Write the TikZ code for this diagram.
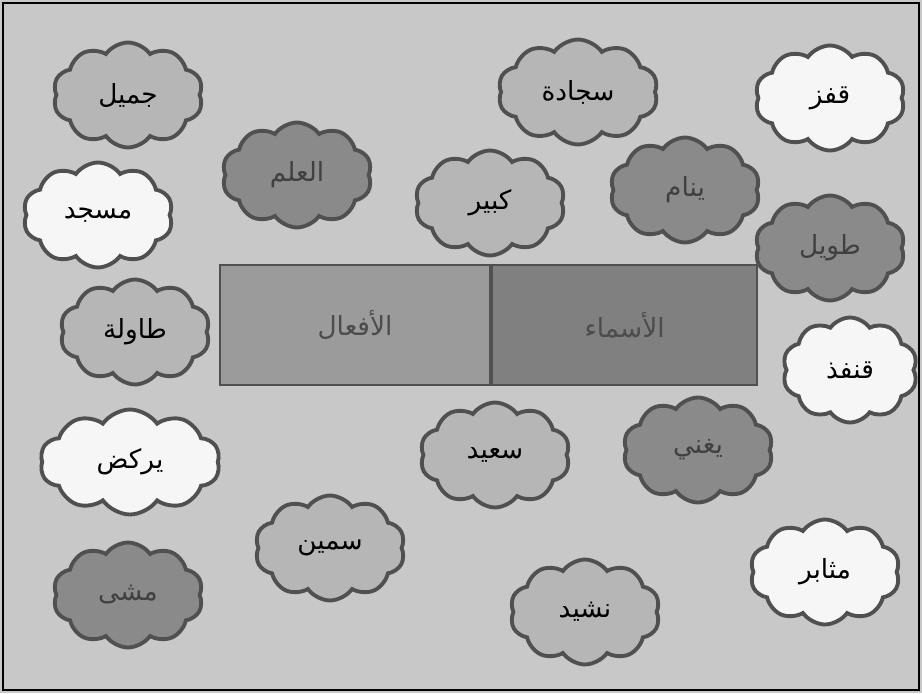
\documentclass[tikz,border=0pt]{standalone}
\usepackage{fontspec}
\usepackage{tikz}
\usetikzlibrary{shapes.symbols}
\TeXXeTstate=1
\newfontfamily\arabicfont[Script=Arabic]{DejaVu Sans}
\newcommand{\arword}[1]{\beginR #1\endR}
\definecolor{pagegray}{RGB}{200,200,200}
\definecolor{lightfill}{RGB}{182,182,182}
\definecolor{darkfill}{RGB}{138,138,138}
\definecolor{whitefill}{RGB}{246,246,246}
\definecolor{edgegray}{RGB}{80,80,80}
\definecolor{verbfill}{RGB}{155,155,155}
\definecolor{nounfill}{RGB}{128,128,128}
\tikzset{
  cloudstyle/.style={cloud, cloud puffs=10, cloud puff arc=110, cloud ignores aspect,
    draw=edgegray, line width=2.2pt, minimum width=3cm, minimum height=2.1cm,
    font=\arabicfont\fontsize{15}{17}\selectfont, text=black},
  lightcloud/.style={cloudstyle, fill=lightfill},
  darkcloud/.style={cloudstyle, fill=darkfill, text=black!75},
  whitecloud/.style={cloudstyle, fill=whitefill},
  boxstyle/.style={rectangle, draw=edgegray, line width=1.2pt, minimum width=5.4cm,
    minimum height=2.4cm, font=\arabicfont\fontsize{15}{17}\selectfont, text=black!70}
}
\begin{document}
\begin{tikzpicture}[x=0.02cm, y=-0.02cm]
  \useasboundingbox (0,0) rectangle (922,693);
  \fill[pagegray] (0,0) rectangle (922,693);
  \draw[black, line width=1.5pt] (3,3) rectangle (919,690);
  % word clouds
  \node[lightcloud] (jamil) at (128,95) {\arword{جميل}};
  \node[lightcloud, minimum width=3.2cm] (sajjada) at (578,92) {\arword{سجادة}};
  \node[whitecloud] (qafaza) at (830,98) {\arword{قفز}};
  \node[darkcloud] (alilm) at (297,175) {\arword{العلم}};
  \node[lightcloud] (kabir) at (490,203) {\arword{كبير}};
  \node[darkcloud] (yanam) at (685,190) {\arword{ينام}};
  \node[whitecloud] (masjid) at (98,215) {\arword{مسجد}};
  \node[darkcloud] (tawil) at (830,248) {\arword{طويل}};
  \node[lightcloud] (tawila) at (135,332) {\arword{طاولة}};
  \node[whitecloud, minimum width=2.7cm] (qunfudh) at (850,370) {\arword{قنفذ}};
  \node[whitecloud, minimum width=3.6cm] (yarkud) at (130,462) {\arword{يركض}};
  \node[lightcloud] (said) at (495,455) {\arword{سعيد}};
  \node[darkcloud] (yughanni) at (698,450) {\arword{يغني}};
  \node[lightcloud] (samin) at (330,548) {\arword{سمين}};
  \node[darkcloud] (masha) at (128,595) {\arword{مشى}};
  \node[lightcloud] (nashid) at (585,612) {\arword{نشيد}};
  \node[whitecloud] (muthabir) at (825,572) {\arword{مثابر}};
  % category table
  \node[boxstyle, fill=verbfill] (verbs) at (355,325) {\arword{الأفعال}};
  \node[boxstyle, fill=nounfill, minimum width=5.3cm, anchor=west] (nouns) at (verbs.east) {\arword{الأسماء}};
\end{tikzpicture}
\end{document}
